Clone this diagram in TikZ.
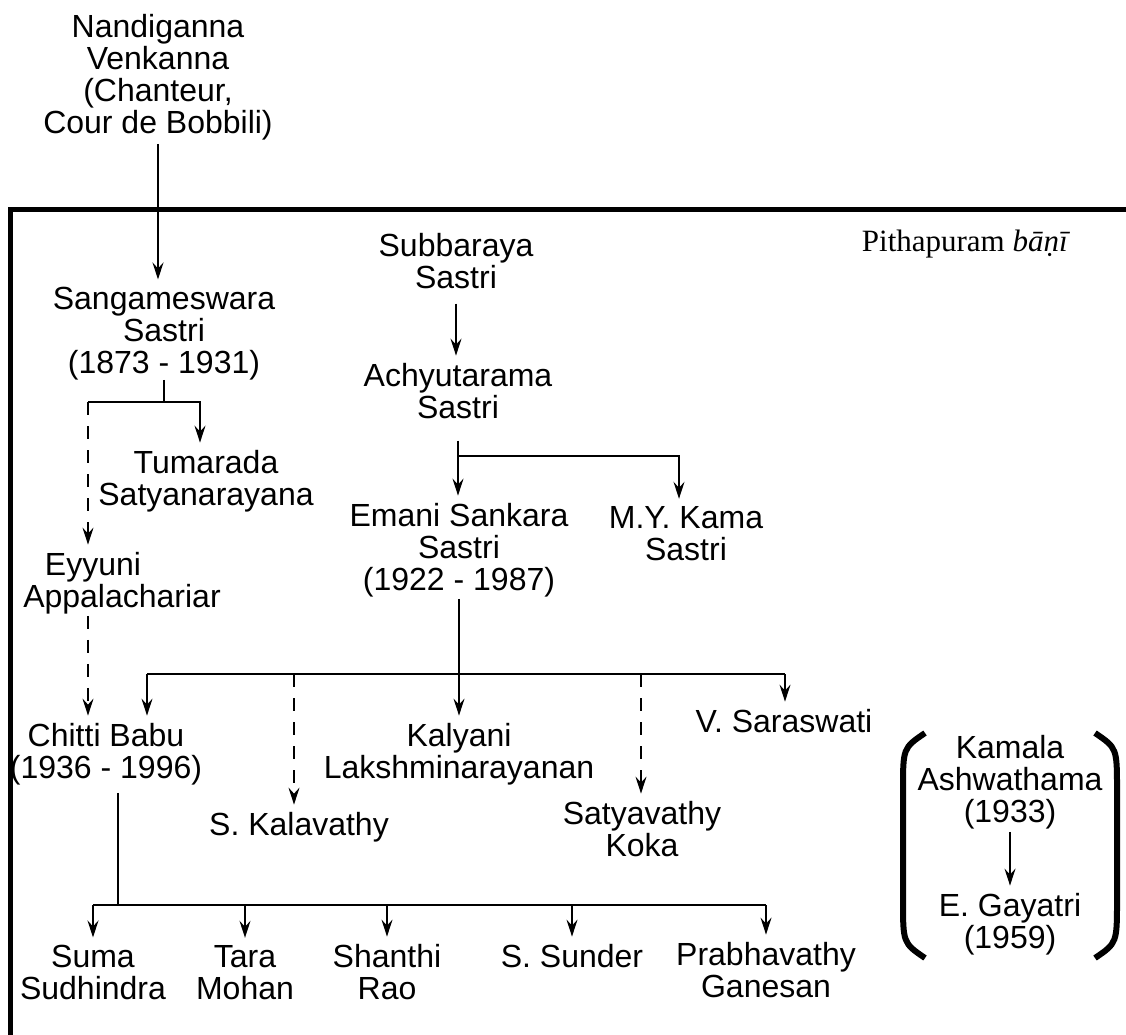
\documentclass[tikz,border=0pt]{standalone}
\usepackage{fontspec}
\setmainfont{Liberation Sans}
\newfontfamily\banifont{Liberation Serif}
\usetikzlibrary{arrows.meta}

\begin{document}
\begin{tikzpicture}[x=1pt,y=-1pt,
        person/.style={align=center,inner sep=0pt,anchor=base,font=\fontsize{32}{32}\selectfont},
        link/.style={line width=1.7pt},
        arr/.style={link,shorten >=7pt,-{Stealth[length=17pt,width=11pt,inset=6pt]}},
        dasharr/.style={arr,dash pattern=on 13pt off 11pt}]
                \useasboundingbox (0,0) rectangle (1126,1034);
                % frame of the Pithapuram school (nodes sit at the baseline of their last line)
                \draw[line width=5pt] (1140,209) -- (10,209) -- (10,1050);
                \node[anchor=base,inner sep=0pt,font=\banifont\fontsize{31}{32}\selectfont] (bani) at (966,251) {Pithapuram \textit{bāṇī}};

                \node[person] (nandi) at (158,133) {Nandiganna\\Venkanna\\(Chanteur,\\Cour de Bobbili)};
                \node[person] (sang) at (164,373) {Sangameswara\\Sastri\\(1873 - 1931)};
                \node[person] (tum) at (206,505) {Tumarada\\Satyanarayana};
                \node[person] (eyy) at (122,607) {Eyyuni\hspace*{58pt}\\Appalachariar};
                \node[person] (chitti) at (106,778) {Chitti Babu\\(1936 - 1996)};

                \node[person] (subba) at (456,288) {Subbaraya\\Sastri};
                \node[person] (achyu) at (458,418) {Achyutarama\\Sastri};
                \node[person] (emani) at (459,590) {Emani Sankara\\Sastri\\(1922 - 1987)};
                \node[person] (kama) at (686,560) {M.Y. Kama\\Sastri};
                \node[person] (kalyani) at (459,778) {Kalyani\\Lakshminarayanan};
                \node[person] (kala) at (299,835) {S. Kalavathy};
                \node[person] (satya) at (642,856) {Satyavathy\\Koka};
                \node[person] (saras) at (784,732) {V. Saraswati};

                \node[person] (suma) at (93,999) {Suma\\Sudhindra};
                \node[person] (tara) at (245,999) {Tara\\Mohan};
                \node[person] (shanthi) at (387,999) {Shanthi\\Rao};
                \node[person] (sunder) at (572,967) {S. Sunder};
                \node[person] (prab) at (766,997) {Prabhavathy\\Ganesan};

                \node[person] (kamala) at (1010,822) {Kamala\\Ashwathama\\(1933)};
                \node[person] (gayatri) at (1010,948) {E. Gayatri\\(1959)};

                % branch points
                \coordinate (sl) at (88,402);
                \coordinate (sr) at (200,402);
                \coordinate (kbar) at (679,456);
                \coordinate (el) at (147,674);
                \coordinate (er) at (785,674);
                \coordinate (kalbar) at (294,674);
                \coordinate (satbar) at (641,674);
                \coordinate (cbar) at (118,905);

                \draw[arr] ([yshift=-4pt]nandi.south) -- (nandi.south |- sang.north);
                \draw[link] (sang.south) -- (sang.south |- sr);
                \draw[arr] (sl) -- (sr) -- (sr |- tum.north);
                \draw[dasharr] (sl) -- (sl |- eyy.north);
                \draw[dasharr] ([yshift=-2pt]eyy.south -| sl) -- (sl |- chitti.north);

                \draw[arr] ([yshift=-15pt]subba.south) -- (subba.south |- achyu.north);
                \draw[arr] ([yshift=-22pt]achyu.south) -- (achyu.south |- emani.north);
                \draw[arr] (achyu.south |- kbar) -- (kbar) -- (kbar |- kama.north);

                \draw[link] (el) -- (er);
                \draw[arr] ([yshift=-2pt]emani.south) -- (emani.south |- kalyani.north);
                \draw[arr] (el) -- (el |- chitti.north);
                \draw[dasharr] (kalbar) -- (kalbar |- kala.north);
                \draw[dasharr] (satbar) -- (satbar |- satya.north);
                \draw[arr] (er) -- (er |- saras.north);

                \draw[link] ([yshift=-8pt]chitti.south -| cbar) -- (cbar);
                \draw[link] (suma.north |- cbar) -- (prab.north |- cbar);
                \draw[arr] (suma.north |- cbar) -- (suma.north);
                \draw[arr] (tara.north |- cbar) -- (tara.north);
                \draw[arr] (shanthi.north |- cbar) -- (shanthi.north);
                \draw[arr] (sunder.north |- cbar) -- (sunder.north);
                \draw[arr] (prab.north |- cbar) -- (prab.north);

                \draw[arr] ([yshift=-3pt]kamala.south) -- (gayatri.north);
                % brackets round Kamala and Gayatri
                \draw[line width=6pt] (925,733) .. controls (903,748) .. (903,790) -- (903,900) .. controls (903,943) .. (925,958);
                \draw[line width=6pt] (1095,733) .. controls (1117,748) .. (1117,790) -- (1117,900) .. controls (1117,943) .. (1095,958);
            \end{tikzpicture}
\end{document}
